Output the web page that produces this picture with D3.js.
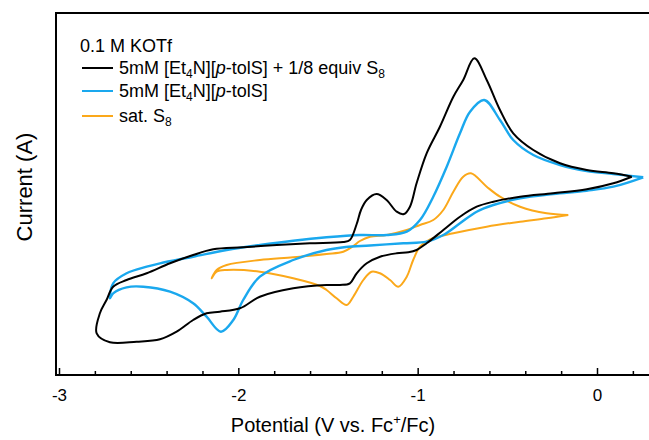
<!DOCTYPE html>
<html>
<head>
<meta charset="utf-8">
<script src="https://cdn.jsdelivr.net/npm/d3@7"></script>
<style>
  html, body { margin: 0; padding: 0; background: #fff; }
  svg { display: block; }
  text { font-family: Arial, "Liberation Sans", sans-serif; fill: #000; }
</style>
</head>
<body>
<svg id="chart" width="649" height="440"></svg>
<script>
// Cyclic voltammograms, potential in V vs. Fc+/Fc, current in arbitrary units (µA scale).
// Each trace is listed in scan order as [potential, current] pairs.

// 5mM [Et4N][p-tolS] + 1/8 equiv S8
const thiolatePlusS8 = [
  [0.194, 7.33], [0.091, 6.67], [-0.057, 6.07], [-0.244, 5.67], [-0.429, 5.33],
  [-0.578, 4.83], [-0.671, 4.33], [-0.764, 3.33], [-0.857, 2.0], [-0.950, 0.67],
  [-1.006, 0.0], [-1.052, -0.23], [-1.117, -0.33], [-1.210, -0.67], [-1.284, -1.33],
  [-1.340, -2.33], [-1.378, -3.33], [-1.433, -3.5], [-1.508, -3.5], [-1.694, -3.83],
  [-1.880, -4.67], [-1.991, -5.83], [-2.103, -6.17], [-2.177, -6.33], [-2.252, -7.0],
  [-2.344, -8.17], [-2.437, -8.93], [-2.567, -9.17], [-2.716, -9.23], [-2.790, -8.33],
  [-2.772, -6.33], [-2.735, -5.0], [-2.698, -3.67], [-2.623, -3.0], [-2.511, -2.33],
  [-2.381, -1.33], [-2.252, -0.5], [-2.140, 0.07], [-1.973, 0.27], [-1.786, 0.5],
  [-1.601, 0.67], [-1.415, 0.8], [-1.378, 1.0], [-1.340, 2.6], [-1.316, 4.0],
  [-1.284, 5.0], [-1.229, 5.6], [-1.173, 5.0], [-1.117, 3.83], [-1.076, 3.6],
  [-1.043, 4.33], [-1.006, 6.67], [-0.950, 9.67], [-0.876, 12.33], [-0.801, 15.33],
  [-0.746, 17.0], [-0.684, 19.17], [-0.615, 17.0], [-0.541, 14.0], [-0.467, 11.67],
  [-0.355, 10.0], [-0.206, 8.67], [-0.057, 8.0], [0.091, 7.67], [0.194, 7.33]
];

// 5mM [Et4N][p-tolS]
const thiolate = [
  [0.258, 7.27], [0.091, 6.33], [-0.057, 5.93], [-0.244, 5.6], [-0.429, 5.17],
  [-0.578, 4.5], [-0.671, 3.83], [-0.764, 2.67], [-0.857, 1.5], [-0.950, 0.83],
  [-1.080, 0.67], [-1.266, 0.45], [-1.400, 0.3], [-1.508, 0.0], [-1.694, -1.0],
  [-1.880, -2.67], [-1.973, -5.0], [-2.028, -7.0], [-2.097, -8.17], [-2.177, -6.67],
  [-2.252, -5.33], [-2.381, -4.17], [-2.530, -3.67], [-2.623, -3.73], [-2.698, -4.33],
  [-2.716, -4.83], [-2.698, -3.33], [-2.623, -2.33], [-2.511, -1.67], [-2.437, -1.33],
  [-2.252, -0.67], [-2.065, 0.0], [-1.880, 0.5], [-1.694, 0.93], [-1.508, 1.27],
  [-1.322, 1.5], [-1.173, 1.5], [-1.061, 1.83], [-0.987, 3.0], [-0.913, 5.33],
  [-0.838, 8.33], [-0.764, 11.67], [-0.708, 13.83], [-0.629, 15.0], [-0.541, 13.0],
  [-0.467, 11.0], [-0.355, 9.5], [-0.206, 8.5], [-0.057, 7.9], [0.091, 7.6], [0.258, 7.27]
];

// sat. S8
const sulfur = [
  [-0.160, 3.5], [-0.281, 3.17], [-0.429, 2.83], [-0.615, 2.33], [-0.801, 1.67],
  [-0.931, 1.07], [-0.987, 0.33], [-1.025, -1.0], [-1.061, -2.67], [-1.108, -3.67],
  [-1.154, -3.0], [-1.210, -2.33], [-1.257, -2.17], [-1.303, -3.0], [-1.359, -4.67],
  [-1.396, -5.5], [-1.452, -4.83], [-1.508, -4.0], [-1.545, -3.6], [-1.694, -2.83],
  [-1.880, -2.17], [-2.065, -2.0], [-2.121, -2.17], [-2.149, -2.83], [-2.121, -2.0],
  [-2.065, -1.5], [-1.880, -1.0], [-1.694, -0.73], [-1.508, -0.4], [-1.415, -0.17],
  [-1.359, 0.4], [-1.322, 0.9], [-1.266, 1.33], [-1.173, 1.5], [-1.061, 2.0],
  [-0.987, 2.5], [-0.913, 3.0], [-0.857, 4.0], [-0.801, 5.83], [-0.746, 7.33],
  [-0.703, 7.67], [-0.615, 6.33], [-0.541, 5.33], [-0.429, 4.33], [-0.281, 3.67],
  [-0.160, 3.5]
];

const majorTicks = [-3, -2, -1, 0];
const minorTicks = [-2.8, -2.6, -2.4, -2.2, -1.8, -1.6, -1.4, -1.2, -0.8, -0.6, -0.4, -0.2, 0.2];

const legendTitle = "0.1 M KOTf";
const seriesColors = { black: "#000000", blue: "#1aa8ee", orange: "#fba81a" };

const svg = d3.select("#chart");
const W = 649, H = 440;
const frame = { left: 56, top: 13, bottom: 375 };

const x = d3.scaleLinear().domain([-3, 0]).range([59, 597]);
const y = d3.scaleLinear().domain([-12.5, 23.7]).range([frame.bottom, frame.top]);

// Plot frame (open on the right, where the plot runs past the edge)
svg.append("path")
  .attr("d", `M${W + 5},${frame.top}H${frame.left}V${frame.bottom}H${W + 5}`)
  .attr("fill", "none").attr("stroke", "#000").attr("stroke-width", 2);

// Bottom axis: labelled majors and short minors, all pointing inward
const axisG = svg.append("g").attr("transform", `translate(0,${frame.bottom})`);
axisG.call(d3.axisBottom(x).tickValues(majorTicks).tickSizeInner(-7).tickSizeOuter(0)
  .tickPadding(14).tickFormat(d => String(d)));
axisG.append("g").call(d3.axisBottom(x).tickValues(minorTicks).tickSizeInner(-4)
  .tickSizeOuter(0).tickFormat(""));
axisG.selectAll(".domain").remove();
axisG.selectAll(".tick line").attr("stroke", "#000").attr("stroke-width", 1.5);
axisG.selectAll(".tick text")
  .style("font-family", "Arial, 'Liberation Sans', sans-serif")
  .style("font-size", "17px").attr("fill", "#000");

// Axis titles
const xt = svg.append("text").attr("x", 333).attr("y", 432).attr("text-anchor", "middle")
  .style("font-size", "20px");
xt.append("tspan").text("Potential (V vs. Fc");
xt.append("tspan").attr("dy", -8).style("font-size", "13px").text("+");
xt.append("tspan").attr("dy", 8).text("/Fc)");

svg.append("text")
  .attr("transform", "translate(32,187) rotate(-90)")
  .attr("text-anchor", "middle").style("font-size", "22px")
  .text("Current (A)");

// Traces
const line = d3.line().x(d => x(d[0])).y(d => y(d[1])).curve(d3.curveCatmullRom.alpha(0.5));
svg.append("defs").append("clipPath").attr("id", "plotclip")
  .append("rect").attr("x", frame.left).attr("y", frame.top)
  .attr("width", W - frame.left + 10).attr("height", frame.bottom - frame.top);

const plot = svg.append("g").attr("clip-path", "url(#plotclip)");
plot.append("path").datum(sulfur).attr("d", line)
  .attr("fill", "none").attr("stroke", seriesColors.orange).attr("stroke-width", 2);
plot.append("path").datum(thiolate).attr("d", line)
  .attr("fill", "none").attr("stroke", seriesColors.blue).attr("stroke-width", 2.4);
plot.append("path").datum(thiolatePlusS8).attr("d", line)
  .attr("fill", "none").attr("stroke", seriesColors.black).attr("stroke-width", 2);

// Legend
const lg = svg.append("g").style("font-size", "18px");
lg.append("text").attr("x", 80).attr("y", 52).text(legendTitle);

const legendRows = [
  { color: seriesColors.black, y: 68, parts: [["5mM [Et"], ["4", "sub"], ["N]["], ["p", "it"], ["-tolS] + 1/8 equiv S"], ["8", "sub"]] },
  { color: seriesColors.blue, y: 91, parts: [["5mM [Et"], ["4", "sub"], ["N]["], ["p", "it"], ["-tolS]"]] },
  { color: seriesColors.orange, y: 116, parts: [["sat. S"], ["8", "sub"]] }
];
legendRows.forEach(r => {
  lg.append("line").attr("x1", 82).attr("x2", 113).attr("y1", r.y).attr("y2", r.y)
    .attr("stroke", r.color).attr("stroke-width", 2);
  const t = lg.append("text").attr("x", 119).attr("y", r.y + 6);
  let sub = false;
  r.parts.forEach(([s, kind]) => {
    const ts = t.append("tspan").text(s);
    if (kind === "sub") { ts.attr("dy", 4).style("font-size", "12px"); sub = true; }
    else if (sub) { ts.attr("dy", -4); sub = false; }
    if (kind === "it") ts.style("font-style", "italic");
  });
});
</script>
</body>
</html>
